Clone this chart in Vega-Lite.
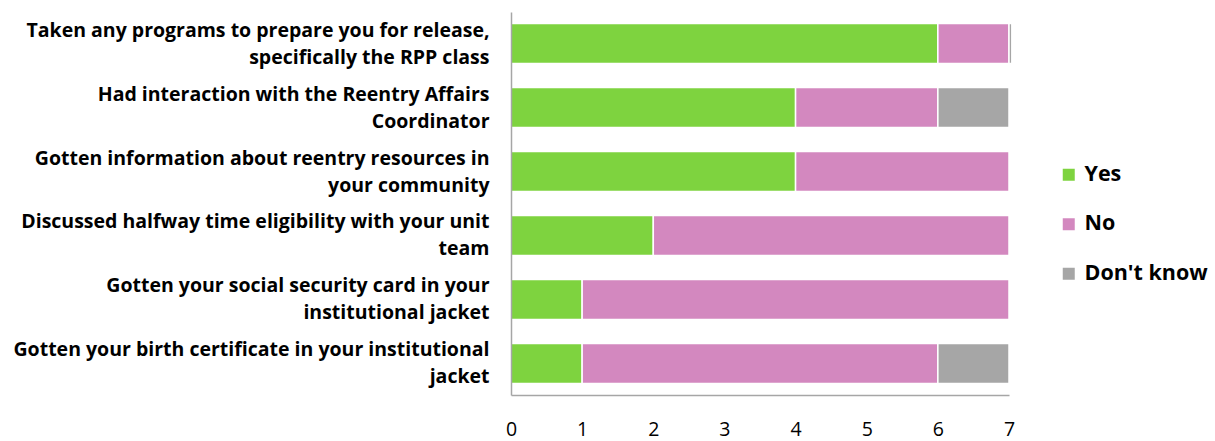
{
  "$schema": "https://vega.github.io/schema/vega-lite/v6.json",
  "width": 498,
  "height": 383,
  "autosize": {"type": "none"},
  "padding": {"left": 511, "top": 12, "right": 206, "bottom": 46},
  "background": "white",
  "config": {"view": {"stroke": null}, "font": "Open Sans"},
  "data": {
    "values": [
      {"q": "Taken any programs to prepare you for release,|specifically the RPP class", "r": "Yes", "o": 1, "v": 6},
      {"q": "Taken any programs to prepare you for release,|specifically the RPP class", "r": "No", "o": 2, "v": 1},
      {"q": "Taken any programs to prepare you for release,|specifically the RPP class", "r": "Don't know", "o": 3, "v": 0.04},
      {"q": "Had interaction with the Reentry Affairs|Coordinator", "r": "Yes", "o": 1, "v": 4},
      {"q": "Had interaction with the Reentry Affairs|Coordinator", "r": "No", "o": 2, "v": 2},
      {"q": "Had interaction with the Reentry Affairs|Coordinator", "r": "Don't know", "o": 3, "v": 1},
      {"q": "Gotten information about reentry resources in|your community", "r": "Yes", "o": 1, "v": 4},
      {"q": "Gotten information about reentry resources in|your community", "r": "No", "o": 2, "v": 3},
      {"q": "Discussed halfway time eligibility with your unit|team", "r": "Yes", "o": 1, "v": 2},
      {"q": "Discussed halfway time eligibility with your unit|team", "r": "No", "o": 2, "v": 5},
      {"q": "Gotten your social security card in your|institutional jacket", "r": "Yes", "o": 1, "v": 1},
      {"q": "Gotten your social security card in your|institutional jacket", "r": "No", "o": 2, "v": 6},
      {"q": "Gotten your birth certificate in your institutional|jacket", "r": "Yes", "o": 1, "v": 1},
      {"q": "Gotten your birth certificate in your institutional|jacket", "r": "No", "o": 2, "v": 5},
      {"q": "Gotten your birth certificate in your institutional|jacket", "r": "Don't know", "o": 3, "v": 1}
    ]
  },
  "mark": {"type": "bar", "stroke": "white", "strokeWidth": 1.5},
  "encoding": {
    "y": {
      "field": "q",
      "type": "nominal",
      "sort": null,
      "scale": {"paddingInner": 0.375, "paddingOuter": 0.18},
      "axis": {
        "title": null,
        "ticks": false,
        "zindex": 1,
        "domainColor": "#a6a6a6",
        "domainWidth": 1.5,
        "labelExpr": "split(datum.value, '|')",
        "labelFont": "Open Sans",
        "labelFontSize": 19.5,
        "labelFontWeight": "bold",
        "labelColor": "black",
        "labelPadding": 22,
        "labelOffset": -13,
        "labelLimit": 0,
        "labelLineHeight": 27
      }
    },
    "x": {
      "field": "v",
      "type": "quantitative",
      "stack": "zero",
      "scale": {"domain": [0, 7], "nice": false},
      "axis": {
        "title": null,
        "values": [0, 1, 2, 3, 4, 5, 6, 7],
        "grid": false,
        "ticks": false,
        "zindex": 1,
        "domainColor": "#a6a6a6",
        "domainWidth": 1.5,
        "labelFont": "Open Sans",
        "labelFontSize": 19.5,
        "labelColor": "black",
        "labelPadding": 25,
        "labelFlush": false
      }
    },
    "color": {
      "field": "r",
      "type": "nominal",
      "scale": {"domain": ["Yes", "No", "Don't know"], "range": ["#7ED33F", "#D388BF", "#A6A6A6"]},
      "legend": {
        "title": null,
        "orient": "none",
        "legendX": 547,
        "legendY": 152,
        "symbolType": "square",
        "symbolSize": 144,
        "symbolStrokeWidth": 0,
        "labelFont": "Open Sans",
        "labelFontSize": 21.5,
        "labelFontWeight": "bold",
        "labelColor": "black",
        "labelOffset": 5,
        "rowPadding": 26.5
      }
    },
    "order": {"field": "o", "type": "quantitative"}
  }
}
